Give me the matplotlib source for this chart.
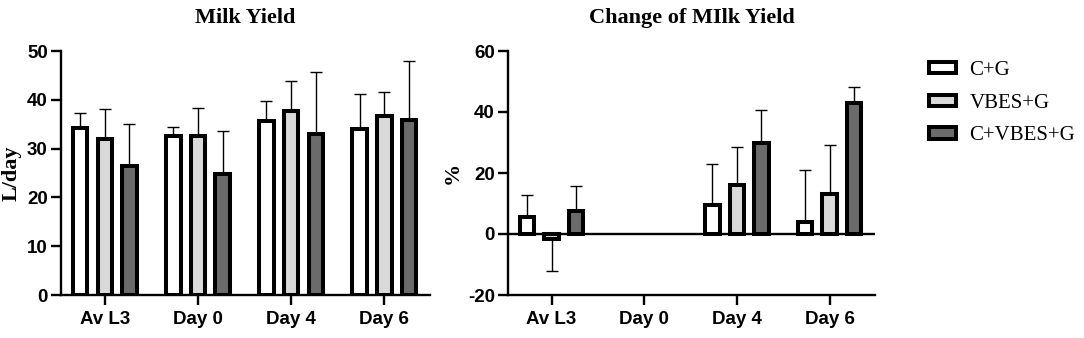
import numpy as np
import matplotlib.pyplot as plt

# Data
days = ["Av L3", "Day 0", "Day 4", "Day 6"]
groups = ["C+G", "VBES+G", "C+VBES+G"]
colors = ["#ffffff", "#d9d9d9", "#6b6b6b"]

# Milk yield, L/day (mean and SD per group)
yield_mean = [[34.3, 32.6, 35.6, 34.1],
              [31.9, 32.6, 37.8, 36.6],
              [26.5, 24.8, 32.9, 35.9]]
yield_sd = [[2.9, 1.9, 4.1, 7.1],
            [6.3, 5.8, 6.0, 4.9],
            [8.6, 8.8, 12.8, 12.0]]

# Change of milk yield, %
change_mean = [[5.6, 0.0, 9.6, 4.0],
               [-1.7, 0.0, 16.2, 13.2],
               [7.6, 0.0, 29.7, 43.0]]
change_sd = [[7.3, 0.0, 13.3, 17.1],
             [10.4, 0.0, 12.3, 16.1],
             [8.2, 0.0, 11.0, 5.2]]

W, H = 1084, 338
fig = plt.figure(figsize=(W / 100, H / 100), dpi=100)

tick_font = dict(family="Liberation Sans", weight="bold", size=13.5)
serif_bold = dict(family="Liberation Serif", weight="bold", size=16)


def bar_panel(ax, means, sds, ylim, yticks, title, ylabel):
    x = np.arange(len(days))
    width = 0.155
    step = 0.265
    for i, g in enumerate(groups):
        m = np.array(means[i])
        s = np.array(sds[i])
        pos = x + (i - 1) * step
        # zero bars are not drawn (they only show as the baseline)
        nz = m != 0
        ax.bar(pos[nz], m[nz], width, color=colors[i], edgecolor="black",
               linewidth=2.9, zorder=3, label=g)
        lo = np.where(m < 0, s, 0)
        hi = np.where(m >= 0, s, 0)
        keep = s > 0
        ax.errorbar(pos[keep], m[keep], yerr=[lo[keep], hi[keep]], fmt="none",
                    ecolor="black", elinewidth=1.0, capsize=4, capthick=1.0,
                    zorder=2)
    ax.set_xlim(-0.47, 3.49)
    ax.set_ylim(*ylim)
    ax.set_yticks(yticks)
    ax.set_xticks(x)
    ax.set_xticklabels(days, fontdict=tick_font)
    ax.set_yticklabels([str(t) for t in yticks], fontdict=tick_font)
    for side in ["top", "right"]:
        ax.spines[side].set_visible(False)
    for side in ["left", "bottom"]:
        ax.spines[side].set_linewidth(1.7)
    ax.tick_params(width=1.7, length=7.5, direction="out", pad=2)
    ax.tick_params(axis="x", pad=4)
    ax.set_title(title, fontdict=serif_bold, pad=20)
    ax.set_ylabel(ylabel, fontdict=serif_bold, labelpad=4)


ax1 = fig.add_axes([61 / W, 43 / H, 369 / W, 244 / H])
bar_panel(ax1, yield_mean, yield_sd, (0, 50), [0, 10, 20, 30, 40, 50],
          "Milk Yield", "L/day")

ax2 = fig.add_axes([508 / W, 43 / H, 367 / W, 244 / H])
bar_panel(ax2, change_mean, change_sd, (-20, 60), [-20, 0, 20, 40, 60],
          "Change of MIlk Yield", "%")
ax2.axhline(0, color="black", linewidth=1.7, zorder=4)

handles, labels = ax2.get_legend_handles_labels()
leg = fig.legend(handles, labels, loc="upper left",
                 bbox_to_anchor=(929 / W, 1 - 61 / H), frameon=False,
                 borderpad=0, borderaxespad=0,
                 prop=dict(family="Liberation Serif", size=15),
                 handlelength=1.3, handleheight=0.45, handletextpad=0.65,
                 labelspacing=0.66)

fig.savefig("out.png", dpi=100)
plt.close("all")
